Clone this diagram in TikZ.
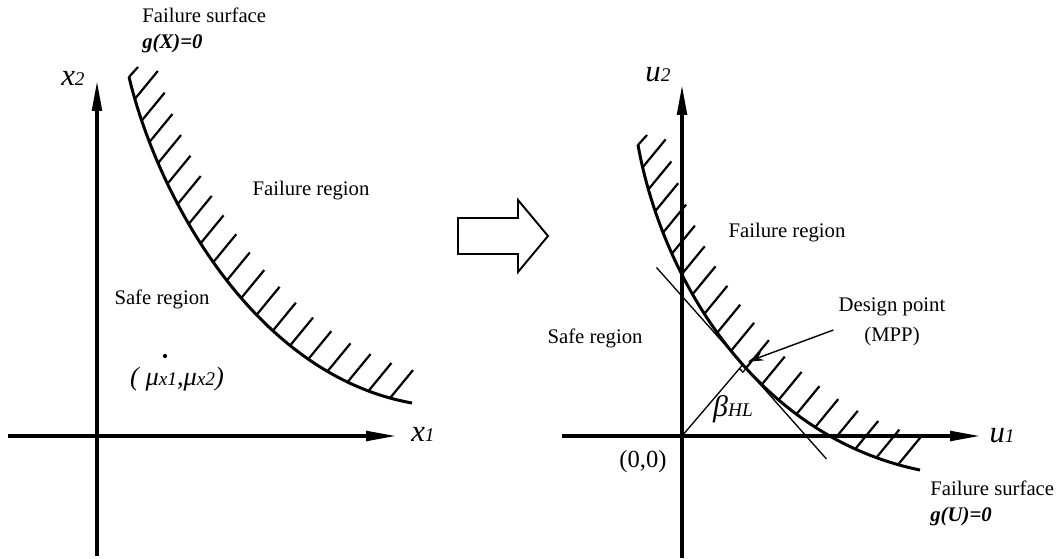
\documentclass[tikz,border=0pt]{standalone}
\usepackage{fontspec}
\setmainfont{Liberation Serif}
\usetikzlibrary{arrows.meta,calc,decorations.markings}
\tikzset{
  axis/.style={line width=1.8pt, -{Triangle[length=17pt,width=5.5pt]}},
  surface/.style={line width=1.7pt},
  hatch/.style={line width=1.25pt},
  thinline/.style={line width=0.75pt},
  pointer/.style={line width=0.8pt, -{Stealth[length=9pt,width=5pt]}},
  lbl/.style={inner sep=0pt, font=\fontsize{11.8}{17}\selectfont},
  eqlbl/.style={inner sep=0pt, anchor=west, font=\fontsize{11.8}{14}\selectfont\bfseries\itshape},
  hatched/.style={postaction={decorate, decoration={markings,
    mark=at position 0 with {\pgftransformresetnontranslations \draw[hatch] (0,0) -- ++(9,-10);},
    mark=between positions 0.05 and 0.99 step 0.05 with {\pgftransformresetnontranslations \draw[hatch] (0,0) -- ++(23,-28);},
    mark=at position 0.9999 with {\pgftransformresetnontranslations \draw[hatch] (0,0) -- ++(23,-28);}}}}
}
\newcommand{\symlabel}[2]{{\fontsize{17.5}{18}\selectfont\itshape #1}{\fontsize{11}{12}\selectfont\itshape #2}}
\newcommand{\bigit}[1]{{\fontsize{15}{16}\selectfont\itshape #1}}
\newcommand{\smallit}[1]{{\fontsize{11}{12}\selectfont\itshape #1}}

\begin{document}
\begin{tikzpicture}[x=0.02cm, y=-0.02cm]
  \useasboundingbox (0,0) rectangle (1057,558);
  % left: original space
  \draw[axis] (8,436) -- (396,436);
  \draw[axis] (97,556) -- (97,81);
  \node[lbl] (x1) at (423,434) {\symlabel{x}{1}};
  \node[lbl] (x2) at (73,78) {\symlabel{x}{2}};
  \draw[surface, hatched] (129,77) .. controls (158,198) and (255,375) .. (412,403);
  \node[lbl, anchor=west] (fs1) at (142,15) {Failure surface};
  \node[eqlbl] (g1) at (142,44) {g(X)=0};
  \node[lbl] (fr1) at (311,191) {Failure region};
  \node[lbl] (sr1) at (162,299) {Safe region};
  \fill (165,356) circle[radius=1.2pt];
  \node[lbl] (mu) at (177,379) {\bigit{( μ}\smallit{x1}\bigit{,μ}\smallit{x2}\bigit{)}};

  % transformation arrow
  \draw[line width=1.1pt] (458,218) -- (518,218) -- (518,200) -- (548,236) -- (518,272) -- (518,254) -- (458,254) -- cycle;

  % right: standard normal space
  \coordinate (O) at (682,436);
  \draw[axis] (562,436) -- (980,436);
  \draw[axis] (682,558) -- (682,85);
  \node[lbl] (u1) at (1002,436) {\symlabel{u}{1}};
  \node[lbl] (u2) at (658,75) {\symlabel{u}{2}};
  \draw[surface, hatched, postaction={decorate, decoration={markings,
      mark=at position 0.54 with {\coordinate (D); \coordinate (Dt) at (10,0);}}}]
    (638,145) .. controls (662,278) and (755,436) .. (920,470);
  \draw[thinline] ($(D)!-2.6cm!(Dt)$) -- ($(D)!2.52cm!(Dt)$);
  \draw[thinline] (O) -- (D);
  \coordinate (ra) at ($(D)!0.1cm!(O)$);
  \coordinate (rc) at ($(D)!0.1cm!(Dt)$);
  \draw[thinline] (ra) -- ($(ra)+(rc)-(D)$) -- (rc);
  \node[lbl] (beta) at (733,409) {{\fontsize{17}{18}\selectfont\itshape β}\smallit{HL}};
  \node[lbl, font=\fontsize{14}{16}\selectfont] (orig) at (643,462) {(0,0)};
  \node[lbl] (fr2) at (787,233) {Failure region};
  \node[lbl] (sr2) at (595,338) {Safe region};
  \node[lbl, align=center] (dp) at (892,322) {Design point\\(MPP)};
  \draw[pointer] ([shift={(-5,8)}]dp.west) -- ([shift={(5,-3)}]D);
  \node[lbl, anchor=west] (fs2) at (930,488) {Failure surface};
  \node[eqlbl] (g2) at (930,517) {g(U)=0};
\end{tikzpicture}
\end{document}
